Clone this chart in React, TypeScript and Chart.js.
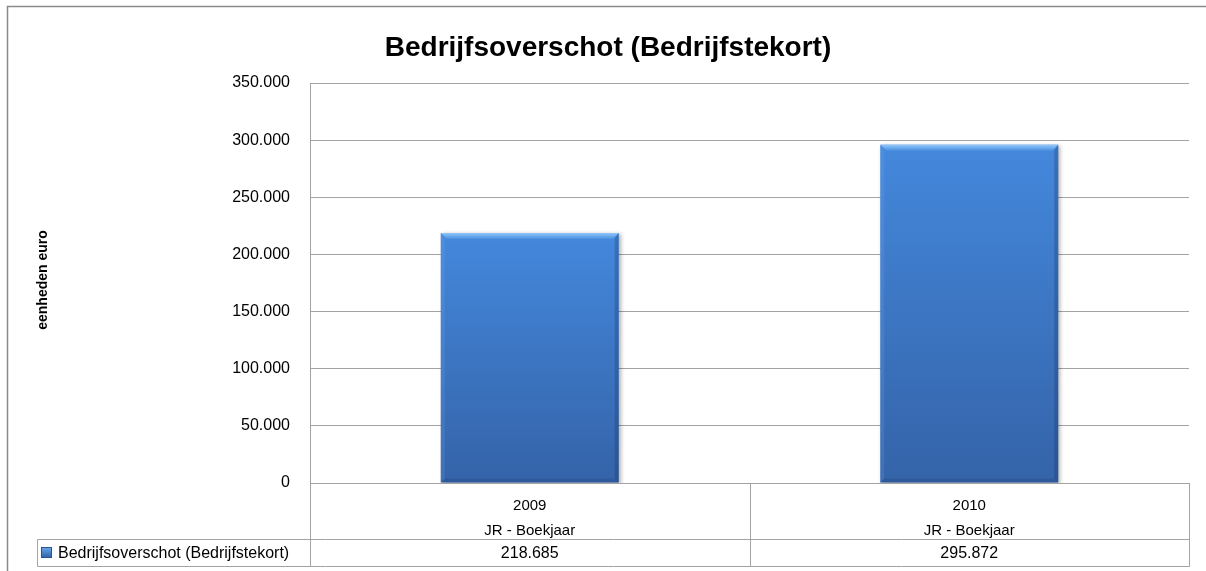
import React, { useEffect, useRef } from "react";
import { Chart, registerables } from "chart.js";

Chart.register(...registerables);

// ---- data ----
const chartTitle = "Bedrijfsoverschot (Bedrijfstekort)";
const yAxisTitle = "eenheden euro";
const categories = ["2009", "2010"];
const categorySubLabels = ["JR - Boekjaar", "JR - Boekjaar"];
const seriesName = "Bedrijfsoverschot (Bedrijfstekort)";
const seriesValues = [218685, 295872];
const yMin = 0;
const yMax = 350000;
const yStep = 50000;

const FONT = "'Liberation Sans', Arial, sans-serif";
const GRID = "#a3a3a3";

function fmt(v: number): string {
  return Math.round(v)
    .toString()
    .replace(/\B(?=(\d{3})+(?!\d))/g, ".");
}

function barGradient(ctx: CanvasRenderingContext2D, top: number, bottom: number) {
  const g = ctx.createLinearGradient(0, top, 0, bottom);
  g.addColorStop(0, "#4488dc");
  g.addColorStop(1, "#3463a8");
  return g;
}

const decorPlugin = {
  id: "decor",
  beforeDraw(chart: any) {
    const ctx = chart.ctx;
    ctx.save();
    ctx.fillStyle = "#ffffff";
    ctx.fillRect(0, 0, chart.width, chart.height);
    ctx.restore();
  },
  beforeDatasetsDraw(chart: any) {
    const ctx = chart.ctx;
    ctx.save();
    ctx.shadowColor = "rgba(0,0,0,0.3)";
    ctx.shadowBlur = 4;
    ctx.shadowOffsetX = 2;
    ctx.shadowOffsetY = 1;
  },
  afterDatasetsDraw(chart: any) {
    const ctx = chart.ctx;
    ctx.restore();
    const meta = chart.getDatasetMeta(0);
    meta.data.forEach((el: any) => {
      const { x, y, base, width } = el.getProps(["x", "y", "base", "width"], true);
      const l = x - width / 2;
      const r = x + width / 2;
      const t = y;
      const b = base;
      const bv = 6;
      const sv = 4;
      ctx.save();
      // top bevel
      const tg = ctx.createLinearGradient(0, t, 0, t + bv);
      tg.addColorStop(0, "#8fc6fb");
      tg.addColorStop(1, "#4a8ee0");
      ctx.fillStyle = tg;
      ctx.beginPath();
      ctx.moveTo(l, t);
      ctx.lineTo(r, t);
      ctx.lineTo(r - bv, t + bv);
      ctx.lineTo(l + bv, t + bv);
      ctx.closePath();
      ctx.fill();
      // left bevel
      ctx.fillStyle = "rgba(120,180,245,0.18)";
      ctx.beginPath();
      ctx.moveTo(l, t);
      ctx.lineTo(l + sv, t + bv);
      ctx.lineTo(l + sv, b - sv);
      ctx.lineTo(l, b);
      ctx.closePath();
      ctx.fill();
      // right bevel
      ctx.fillStyle = "rgba(15,40,90,0.25)";
      ctx.beginPath();
      ctx.moveTo(r, t);
      ctx.lineTo(r, b);
      ctx.lineTo(r - sv, b - sv);
      ctx.lineTo(r - sv, t + bv);
      ctx.closePath();
      ctx.fill();
      // bottom bevel
      ctx.fillStyle = "rgba(15,40,90,0.15)";
      ctx.beginPath();
      ctx.moveTo(l, b);
      ctx.lineTo(r, b);
      ctx.lineTo(r - sv, b - sv);
      ctx.lineTo(l + sv, b - sv);
      ctx.closePath();
      ctx.fill();
      ctx.restore();
    });
  },
  afterDraw(chart: any) {
    const ctx = chart.ctx;
    const area = chart.chartArea;
    const xs = chart.scales.x;
    ctx.save();

    // title
    ctx.fillStyle = "#000";
    ctx.font = `bold 28px ${FONT}`;
    ctx.textAlign = "center";
    ctx.textBaseline = "alphabetic";
    ctx.fillText(chartTitle, 608, 56);

    // y axis title
    ctx.save();
    ctx.translate(43, 280);
    ctx.rotate(-Math.PI / 2);
    ctx.font = `bold 14px ${FONT}`;
    ctx.textAlign = "center";
    ctx.textBaseline = "middle";
    ctx.fillText(yAxisTitle, 0, 0);
    ctx.restore();

    // data table
    const row2Top = 539.5;
    const tableBottom = 566.5;
    const legendLeft = 37.5;
    const n = categories.length;
    const catW = (xs.right - xs.left) / n;
    ctx.strokeStyle = GRID;
    ctx.lineWidth = 1;
    ctx.beginPath();
    for (let i = 0; i <= n; i++) {
      const bx = Math.round(xs.left + i * catW) + 0.5;
      ctx.moveTo(bx, area.bottom);
      ctx.lineTo(bx, tableBottom);
    }
    ctx.moveTo(legendLeft, row2Top);
    ctx.lineTo(Math.round(xs.right) + 0.5, row2Top);
    ctx.moveTo(legendLeft, tableBottom);
    ctx.lineTo(Math.round(xs.right) + 0.5, tableBottom);
    ctx.moveTo(legendLeft, row2Top);
    ctx.lineTo(legendLeft, tableBottom);
    ctx.stroke();

    // values row
    ctx.fillStyle = "#000";
    ctx.font = `16px ${FONT}`;
    ctx.textAlign = "center";
    ctx.textBaseline = "middle";
    seriesValues.forEach((v, i) => {
      const cx = xs.getPixelForValue(i);
      ctx.fillText(fmt(v), cx, (row2Top + tableBottom) / 2 + 0.5);
    });

    // legend key
    const sx = 41, sy = 547, ss = 11;
    const sg = ctx.createLinearGradient(0, sy, 0, sy + ss);
    sg.addColorStop(0, "#6aa9f0");
    sg.addColorStop(1, "#2f5fa3");
    ctx.fillStyle = sg;
    ctx.fillRect(sx, sy, ss, ss);
    ctx.strokeStyle = "#2a5694";
    ctx.strokeRect(sx + 0.5, sy + 0.5, ss - 1, ss - 1);
    ctx.fillStyle = "#000";
    ctx.textAlign = "left";
    ctx.fillText(seriesName, 58, (row2Top + tableBottom) / 2 + 0.5);

    // outer border
    ctx.strokeStyle = "#8a8a8a";
    ctx.lineWidth = 1.5;
    ctx.strokeRect(7.5, 6.5, chart.width + 20, chart.height + 20);

    ctx.restore();
  },
};

export default function App() {
  const canvasRef = useRef<HTMLCanvasElement | null>(null);

  useEffect(() => {
    document.body.style.margin = "0";
    const canvas = canvasRef.current;
    if (!canvas) return;
    Chart.defaults.font.family = FONT;
    const chart = new Chart(canvas, {
      type: "bar",
      data: {
        labels: categories.map((c, i) => [c, categorySubLabels[i]]),
        datasets: [
          {
            label: seriesName,
            data: seriesValues,
            backgroundColor: (c: any) => {
              const ch = c.chart;
              const area = ch.chartArea;
              if (!area || c.type !== "data") return "#3f7cc8";
              const top = ch.scales.y.getPixelForValue(c.raw);
              return barGradient(ch.ctx, top, area.bottom);
            },
            borderWidth: 0,
            barPercentage: 0.405,
            categoryPercentage: 1,
          },
        ],
      },
      plugins: [decorPlugin],
      options: {
        responsive: false,
        animation: false,
        devicePixelRatio: 1,
        layout: { padding: { top: 83, right: 17, bottom: 0, left: 0 } },
        plugins: {
          legend: { display: false },
          title: { display: false },
          tooltip: { enabled: false },
        },
        scales: {
          x: {
            type: "category",
            grid: { display: false },
            border: { display: false },
            ticks: {
              color: "#000",
              padding: 2,
              maxRotation: 0,
              autoSkip: false,
              font: { size: 15, family: FONT, lineHeight: 25 / 15 },
            },
            afterFit: (s: any) => {
              s.height = 88;
            },
          },
          y: {
            min: yMin,
            max: yMax,
            grid: { color: GRID, lineWidth: 1, drawTicks: false },
            border: { display: true, color: GRID, width: 1 },
            ticks: {
              stepSize: yStep,
              padding: 20,
              color: "#000",
              font: { size: 16, family: FONT },
              callback: (v: any) => fmt(Number(v)),
            },
            afterFit: (s: any) => {
              s.width = 310;
            },
          },
        },
      },
    } as any);
    return () => chart.destroy();
  }, []);

  return (
    <canvas
      ref={canvasRef}
      width={1206}
      height={571}
      style={{ display: "block", width: 1206, height: 571 }}
    />
  );
}
